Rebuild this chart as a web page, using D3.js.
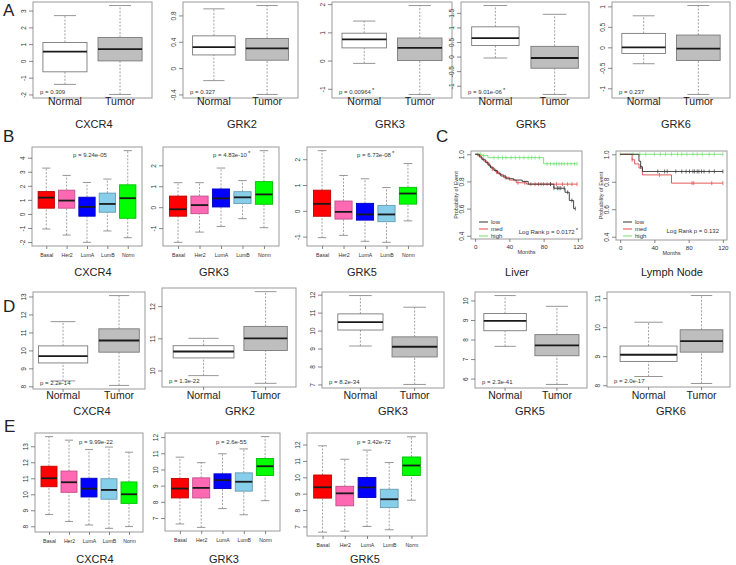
<!DOCTYPE html>
<html><head><meta charset="utf-8">
<script src="https://cdn.jsdelivr.net/npm/d3@7"></script>
<style>
body{margin:0;background:#fff}
svg{display:block}
text{font-family:"Liberation Sans",Arial,sans-serif}
</style>
</head><body>
<svg id="c" width="736" height="565"></svg>
<script>
// ---------------- DATA ----------------
const groups2 = ["Normal", "Tumor"];
const subtypes = ["Basal", "Her2", "LumA", "LumB", "Norm"];
const subtypeColors = ["#ff0000", "#ff69b4", "#0000ff", "#87ceeb", "#00ff00"];
const groupColors = ["#ffffff", "#bebebe"];
// each box: [lower whisker, Q1, median, Q3, upper whisker]
const A_CXCR4 = [[-1.4, -0.65, 0.55, 1.1, 2.7], [-2.0, 0.0, 0.7, 1.4, 3.3]];
const A_GRK2  = [[-0.19, 0.2, 0.32, 0.49, 0.9], [-0.4, 0.12, 0.3, 0.45, 0.95]];
const A_GRK3  = [[-0.1, 0.45, 0.75, 0.97, 1.4], [-1.2, 0.0, 0.45, 0.8, 1.95]];
const A_GRK5  = [[-0.05, 0.38, 0.63, 1.02, 1.75], [-1.3, -0.4, -0.05, 0.35, 1.45]];
const A_GRK6  = [[-0.4, -0.15, 0.0, 0.34, 0.77], [-1.15, -0.32, -0.03, 0.3, 1.02]];
const A_pvals = ["p = 0.309", "p = 0.327", "p = 0.00964", "p = 9.01e-06", "p = 0.237"];
const A_star  = [false, false, true, true, false];

const B_CXCR4 = [[-1.07, 0.41, 1.16, 1.59, 3.26], [-1.5, 0.41, 0.95, 1.69, 2.74], [-2.02, -0.16, 0.5, 1.19, 2.24], [-1.21, 0.12, 0.71, 1.48, 2.48], [-1.69, -0.31, 1.12, 2.07, 4.5]];
const B_GRK3  = [[-1.68, -0.43, -0.1, 0.53, 1.17], [-1.19, -0.31, 0.1, 0.53, 1.17], [-0.92, 0.01, 0.42, 0.87, 1.87], [-0.55, 0.18, 0.47, 0.74, 1.27], [-0.98, 0.14, 0.61, 1.22, 2.7]];
const B_GRK5  = [[-1.04, -0.21, 0.27, 0.8, 2.33], [-0.95, -0.32, -0.04, 0.38, 1.37], [-1.18, -0.36, -0.14, 0.29, 1.24], [-1.22, -0.42, -0.14, 0.21, 0.9], [-0.39, 0.26, 0.67, 0.91, 1.83]];
const B_pvals = ["p = 9.24e-05", "p = 4.83e-10", "p = 6.73e-08"];
const B_star  = [false, true, true];

const D_CXCR4 = [[8.3, 9.3, 9.68, 10.25, 11.6], [8.05, 9.9, 10.55, 11.2, 13.05]];
const D_GRK2  = [[9.84, 10.39, 10.59, 10.77, 11.0], [9.6, 10.62, 11.0, 11.37, 12.45]];
const D_GRK3  = [[9.14, 10.03, 10.47, 10.93, 11.95], [7.0, 8.53, 9.1, 9.65, 11.3]];
const D_GRK5  = [[7.65, 8.45, 8.95, 9.33, 10.25], [5.7, 7.17, 7.7, 8.25, 9.7]];
const D_GRK6  = [[8.3, 8.82, 9.05, 9.35, 10.17], [8.06, 9.14, 9.52, 9.91, 11.09]];
const D_pvals = ["p = 2.2e-14", "p = 1.3e-22", "p = 8.2e-34", "p = 2.3e-41", "p = 2.0e-17"];

const E_CXCR4 = [[8.73, 10.47, 11.0, 11.75, 13.6], [8.3, 10.12, 10.75, 11.45, 13.38], [8.08, 9.83, 10.35, 11.0, 12.8], [7.87, 9.69, 10.27, 10.97, 12.95], [7.98, 9.43, 10.0, 10.77, 12.63]];
const E_GRK3  = [[6.63, 8.24, 8.82, 9.44, 10.76], [6.42, 8.24, 8.86, 9.48, 10.42], [7.58, 8.82, 9.34, 9.73, 10.97], [7.2, 8.66, 9.24, 9.79, 11.27], [8.07, 9.63, 10.2, 10.68, 12.03]];
const E_GRK5  = [[6.65, 8.73, 9.39, 10.14, 11.92], [6.71, 8.26, 9.02, 9.45, 11.1], [7.0, 8.77, 9.38, 9.99, 11.66], [6.8, 8.15, 8.66, 9.27, 10.9], [8.6, 10.11, 10.72, 11.24, 12.47]];
const E_pvals = ["p = 9.99e-22", "p = 2.6e-55", "p = 3.42e-72"];

// Kaplan-Meier (months, probability)
const kmSeries = ["low", "med", "high"];
const kmColors = ["#333333", "#e04848", "#70e070"];
const liverT = [[0, 5, 8, 12, 15, 18, 22, 26, 30, 36, 45, 55, 62, 92, 105, 110, 115],
                [0, 3, 7, 10, 14, 17, 20, 24, 28, 33, 40, 48, 60],
                [0, 8, 15, 80]];
const liverS = [[1, 0.98, 0.96, 0.94, 0.92, 0.9, 0.88, 0.86, 0.84, 0.82, 0.81, 0.8, 0.78, 0.75, 0.72, 0.66, 0.6],
                [1, 0.99, 0.97, 0.95, 0.93, 0.91, 0.89, 0.87, 0.85, 0.83, 0.81, 0.79, 0.78],
                [1, 0.99, 0.975, 0.93]];
const liverC = [[88, 92, 96, 98, 100, 104, 108, 113, 117],
                [16, 20, 25, 35, 50, 58, 65, 70, 74, 77, 80, 84, 88, 95, 102, 108, 113, 119],
                [3, 6, 10, 22, 27, 32, 36, 42, 47, 52, 57, 62, 66, 70, 75, 84, 88, 92, 95, 98, 101, 104, 108, 112, 116, 119]];
const lymphT = [[0, 22, 24, 26], [0, 14, 17, 22, 26, 60], [0]];
const lymphS = [[1, 0.95, 0.91, 0.875], [1, 0.96, 0.93, 0.9, 0.85, 0.79], [1]];
const lymphC = [[24, 44, 52, 55, 65, 72, 77, 81, 85, 87, 90, 92, 95, 98, 104, 110, 120],
                [14, 46, 84, 86, 107, 120],
                [0, 15, 23, 30, 40, 47, 53, 60, 67, 72, 78, 85, 90, 96, 104, 110, 120]];
const kmPvals = ["Log Rank p = 0.0172", "Log Rank p = 0.132"];
const kmStar = [true, false];
const kmTicksX = [0, 40, 80, 120];
const kmTicksY = [0.4, 0.6, 0.8, 1.0];

// ---------------- DRAWING ----------------
const svg = d3.select("#c");
const FRAME = "#9a9a9a", AX = "#555", WH = "#8a8a8a";

function pLabel(g, txt, star, x, y, anchor) {
  const t = g.append("text").attr("x", x).attr("y", y).attr("font-size", 6)
    .attr("fill", "#333").attr("text-anchor", anchor || "start").text(txt);
  if (star) t.append("tspan").attr("dy", -2.5).attr("dx", 1).attr("font-size", 6).text("*");
}

function yAxis(g, y, x0, ticks, fmt) {
  const ax = g.append("g").attr("transform", `translate(${x0},0)`)
    .call(d3.axisLeft(y).tickValues(ticks).tickSize(4).tickFormat(fmt || (d => String(d))));
  ax.select(".domain").remove();
  ax.selectAll("line").attr("stroke", AX).attr("stroke-width", 0.7);
  ax.selectAll("text").attr("x", 0).attr("y", -7).attr("dy", 0)
    .attr("text-anchor", "middle").attr("transform", "rotate(-90)")
    .attr("font-size", 6.5).attr("fill", "#333").attr("font-family", "Liberation Sans, Arial");
}

function boxPanel(o) {
  const [x0, x1, y0, y1] = o.frame;
  const g = svg.append("g");
  const n = o.cats.length;
  const lo = d3.min(o.stats, d => d[0]), hi = d3.max(o.stats, d => d[4]);
  const pad = (hi - lo) * 0.04;
  const y = d3.scaleLinear().domain([lo - pad, hi + pad]).range([y1, y0]);
  const x = d3.scaleLinear().domain([0.5 - n * 0.04, n + 0.5 + n * 0.04]).range([x0, x1]);
  const pos = i => i + 1 + (o.shift ? o.shift[i] : 0);
  o.stats.forEach((s, i) => {
    const c = pos(i);
    const bw = o.bw ? o.bw[i] : 0.8;
    const fill = o.fills[i];
    const stroke = o.colored ? d3.color(fill).darker(0.8) : "#7a7a7a";
    [[s[3], s[4]], [s[0], s[1]]].forEach(([a, b]) => {
      g.append("line").attr("x1", x(c)).attr("x2", x(c)).attr("y1", y(a)).attr("y2", y(b))
        .attr("stroke", WH).attr("stroke-width", 0.8).attr("stroke-dasharray", "2,1.5");
    });
    [s[0], s[4]].forEach(v => {
      g.append("line").attr("x1", x(c - bw / 4)).attr("x2", x(c + bw / 4)).attr("y1", y(v)).attr("y2", y(v))
        .attr("stroke", WH).attr("stroke-width", 0.9);
    });
    g.append("rect").attr("x", x(c - bw / 2)).attr("width", x(c + bw / 2) - x(c - bw / 2))
      .attr("y", y(s[3])).attr("height", y(s[1]) - y(s[3]))
      .attr("fill", fill).attr("stroke", stroke).attr("stroke-width", 0.9);
    g.append("line").attr("x1", x(c - bw / 2)).attr("x2", x(c + bw / 2)).attr("y1", y(s[2])).attr("y2", y(s[2]))
      .attr("stroke", "#1a1a1a").attr("stroke-width", 1.8);
  });
  g.append("rect").attr("x", x0).attr("y", y0).attr("width", x1 - x0).attr("height", y1 - y0)
    .attr("fill", "none").attr("stroke", FRAME).attr("stroke-width", 1);
  yAxis(g, y, x0, o.ticks);
  if (o.small) {
    const ax = g.append("g").attr("transform", `translate(0,${y1})`)
      .call(d3.axisBottom(x).tickValues(d3.range(1, n + 1)).tickSize(3).tickFormat(i => o.cats[i - 1]));
    ax.select(".domain").remove();
    ax.selectAll("line").attr("stroke", AX).attr("stroke-width", 0.7);
    ax.selectAll("text").attr("font-size", 5.2).attr("fill", "#333").attr("dy", "0.9em")
      .attr("font-family", "Liberation Sans, Arial");
  } else {
    if (o.xticks) {
      o.cats.forEach((c, i) => g.append("line").attr("x1", x(pos(i))).attr("x2", x(pos(i)))
        .attr("y1", y1).attr("y2", y1 + 3).attr("stroke", AX).attr("stroke-width", 0.7));
    }
    o.cats.forEach((c, i) => g.append("text").attr("x", x(pos(i))).attr("y", o.catY)
      .attr("text-anchor", "middle").attr("font-size", 10.5).attr("fill", "#222").text(c));
  }
  pLabel(g, o.p, o.star, o.px, o.py, "start");
  svg.append("text").attr("x", o.geneX).attr("y", o.geneY).attr("text-anchor", "middle")
    .attr("font-size", 11).attr("fill", "#222").text(o.gene);
}

function kmPanel(o) {
  const [x0, x1, y0, y1] = o.frame;
  const g = svg.append("g");
  const x = d3.scaleLinear().domain([-4.8, 124.8]).range([x0, x1]);
  const y = d3.scaleLinear().domain([0.376, 1.024]).range([y1, y0]);
  g.append("rect").attr("x", x0).attr("y", y0).attr("width", x1 - x0).attr("height", y1 - y0)
    .attr("fill", "none").attr("stroke", FRAME).attr("stroke-width", 1);
  yAxis(g, y, x0, kmTicksY, d3.format(".1f"));
  const ax = g.append("g").attr("transform", `translate(0,${y1})`)
    .call(d3.axisBottom(x).tickValues(kmTicksX).tickSize(3).tickFormat(d => String(d)));
  ax.select(".domain").remove();
  ax.selectAll("line").attr("stroke", AX).attr("stroke-width", 0.7);
  ax.selectAll("text").attr("font-size", 6.2).attr("fill", "#333").attr("dy", "0.6em")
    .attr("font-family", "Liberation Sans, Arial");
  g.append("text").attr("x", (x0 + x1) / 2).attr("y", y1 + 15).attr("text-anchor", "middle")
    .attr("font-size", 5.5).attr("fill", "#333").text("Months");
  g.append("text").attr("transform", `translate(${x0 - 13},${(y0 + y1) / 2}) rotate(-90)`)
    .attr("text-anchor", "middle").attr("font-size", 5.5).attr("fill", "#333").text("Probability of Event");
  const line = d3.line().x(d => x(d[0])).y(d => y(d[1])).curve(d3.curveStepAfter);
  [2, 1, 0].forEach(k => {
    const T = o.T[k], S = o.S[k];
    const pts = T.map((t, i) => [t, S[i]]);
    pts.push([d3.max(o.C[k].concat([T[T.length - 1]])), S[S.length - 1]]);
    g.append("path").attr("d", line(pts)).attr("fill", "none").attr("stroke", kmColors[k]).attr("stroke-width", 0.9);
    o.C[k].forEach(t => {
      const idx = d3.bisectRight(T, t) - 1;
      const s = S[Math.max(0, idx)];
      g.append("line").attr("x1", x(t)).attr("x2", x(t)).attr("y1", y(s) - 2).attr("y2", y(s) + 2)
        .attr("stroke", kmColors[k]).attr("stroke-width", 0.7);
    });
  });
  kmSeries.forEach((s, k) => {
    const ly = o.legY + k * 7;
    g.append("line").attr("x1", o.legX).attr("x2", o.legX + 9).attr("y1", ly).attr("y2", ly)
      .attr("stroke", kmColors[k]).attr("stroke-width", 1);
    g.append("text").attr("x", o.legX + 12).attr("y", ly + 2).attr("font-size", 6).attr("fill", "#333").text(s);
  });
  pLabel(g, o.p, o.star, o.px, o.py, "end");
  svg.append("text").attr("x", o.geneX).attr("y", o.geneY).attr("text-anchor", "middle")
    .attr("font-size", 11).attr("fill", "#222").text(o.gene);
}

// panel letters
[["A", 3, 16], ["B", 3, 142], ["C", 436, 142], ["D", 3, 312], ["E", 4, 432]].forEach(([t, x, yy]) =>
  svg.append("text").attr("x", x).attr("y", yy).attr("font-size", 17).attr("fill", "#222").text(t));

// Row A
const rowA = [
  {stats: A_CXCR4, frame: [33, 152, 2, 98], ticks: [-2, -1, 0, 1, 2, 3], gene: "CXCR4", geneX: 94},
  {stats: A_GRK2, frame: [183, 298, 2, 98], ticks: [-0.4, 0, 0.4, 0.8], gene: "GRK2", geneX: 242},
  {stats: A_GRK3, frame: [332, 452, 2, 98], ticks: [-1, 0, 1, 2], gene: "GRK3", geneX: 390},
  {stats: A_GRK5, frame: [461, 589, 2, 98], ticks: [-1, -0.5, 0, 0.5, 1, 1.5], gene: "GRK5", geneX: 531},
  {stats: A_GRK6, frame: [612, 730, 2, 98], ticks: [-1, -0.5, 0, 0.5, 1], gene: "GRK6", geneX: 676}
];
rowA.forEach((r, i) => boxPanel(Object.assign(r, {
  cats: groups2, fills: groupColors, catY: 105, geneY: 128,
  p: A_pvals[i], star: A_star[i], px: r.frame[0] + 7, py: r.frame[3] - 4
})));

// Row B
const rowB = [
  {stats: B_CXCR4, frame: [32, 142, 147, 246], ticks: [-2, -1, 0, 1, 2, 3, 4], gene: "CXCR4", geneX: 93, px: 73},
  {stats: B_GRK3, frame: [163, 279, 147, 246], ticks: [-1, 0, 1, 2], gene: "GRK3", geneX: 214, px: 213},
  {stats: B_GRK5, frame: [307, 423, 147, 246], ticks: [-1, 0, 1, 2], gene: "GRK5", geneX: 362, px: 357}
];
rowB.forEach((r, i) => boxPanel(Object.assign(r, {
  cats: subtypes, fills: subtypeColors, colored: true, small: true, geneY: 276,
  p: B_pvals[i], star: B_star[i], py: 157
})));

// Row C (KM)
kmPanel({frame: [471, 582, 151, 239], T: liverT, S: liverS, C: liverC, p: kmPvals[0], star: kmStar[0],
  px: 578, py: 234, legX: 479, legY: 222, gene: "Liver", geneX: 517, geneY: 276});
kmPanel({frame: [616, 727, 151, 240], T: lymphT, S: lymphS, C: lymphC, p: kmPvals[1], star: kmStar[1],
  px: 719, py: 233, legX: 623, legY: 222, gene: "Lymph Node", geneX: 672, geneY: 276});

// Row D
const rowD = [
  {stats: D_CXCR4, frame: [33, 145, 292, 389], ticks: [8, 9, 10, 11, 12, 13], gene: "CXCR4", geneX: 92, bw: [0.95, 0.78], shift: [0, 0.08]},
  {stats: D_GRK2, frame: [162, 296, 288, 387], ticks: [10, 11, 12], gene: "GRK2", geneX: 240, bw: [0.98, 0.7], shift: [0.09, 0.09]},
  {stats: D_GRK3, frame: [322, 444, 292, 388], ticks: [7, 8, 9, 10, 11, 12], gene: "GRK3", geneX: 393, bw: [0.8, 0.8], shift: [0.1, 0.06]},
  {stats: D_GRK5, frame: [475, 587, 292, 388], ticks: [6, 7, 8, 9, 10], gene: "GRK5", geneX: 530, bw: [0.82, 0.85]},
  {stats: D_GRK6, frame: [607, 730, 292, 387], ticks: [8, 9, 10, 11], gene: "GRK6", geneX: 671, bw: [1.0, 0.75], shift: [0.15, 0.08]}
];
rowD.forEach((r, i) => boxPanel(Object.assign(r, {
  cats: groups2, fills: groupColors, catY: 399, geneY: 415, xticks: true,
  p: D_pvals[i], star: false, px: r.frame[0] + 7, py: r.frame[3] - 4
})));

// Row E
const rowE = [
  {stats: E_CXCR4, frame: [35, 143, 433, 532], ticks: [8, 9, 10, 11, 12, 13], gene: "CXCR4", geneX: 95, px: 79},
  {stats: E_GRK3, frame: [165, 280, 433, 531], ticks: [7, 8, 9, 10, 11, 12], gene: "GRK3", geneX: 224, px: 216},
  {stats: E_GRK5, frame: [307, 427, 433, 536], ticks: [7, 8, 9, 10, 11, 12], gene: "GRK5", geneX: 365, px: 357}
];
rowE.forEach((r, i) => boxPanel(Object.assign(r, {
  cats: subtypes, fills: subtypeColors, colored: true, small: true, geneY: 563,
  p: E_pvals[i], star: false, py: 444
})));
</script>
</body></html>
